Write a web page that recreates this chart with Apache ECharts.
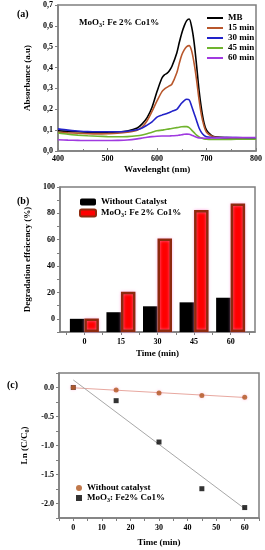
<!DOCTYPE html>
<html><head><meta charset="utf-8">
<script src="https://cdn.jsdelivr.net/npm/echarts@6/dist/echarts.min.js"></script>
<style>html,body{margin:0;padding:0;background:#fff}#c{width:265px;height:550px}</style>
</head><body><div id="c"></div>
<script>
// ---- Panel (a) data ----
var wavelength = [400,420,440,460,480,500,520,540,560,570,580,590,600,610,615,620,625,630,640,645,650,655,660,665,670,675,680,685,690,695,700,710,720,740,760,780,800];
var absMB   = [.097,.094,.092,.090,.089,.089,.091,.096,.110,.130,.160,.210,.285,.350,.365,.372,.385,.405,.470,.520,.565,.600,.625,.633,.595,.520,.410,.290,.200,.135,.100,.075,.067,.064,.063,.062,.061];
var abs15   = [.090,.087,.085,.083,.082,.083,.085,.090,.100,.115,.145,.190,.240,.285,.297,.305,.312,.320,.375,.420,.460,.485,.500,.505,.480,.420,.340,.245,.170,.120,.090,.072,.066,.063,.062,.061,.060];
var abs30   = [.106,.100,.096,.093,.092,.092,.092,.095,.102,.110,.124,.140,.162,.172,.176,.180,.185,.190,.200,.215,.230,.242,.248,.245,.215,.180,.145,.110,.088,.075,.068,.065,.064,.064,.064,.063,.062];
var abs45   = [.086,.080,.076,.073,.071,.069,.068,.069,.073,.077,.083,.090,.097,.100,.102,.104,.106,.108,.112,.114,.116,.117,.117,.112,.100,.088,.076,.068,.062,.058,.056,.055,.055,.055,.056,.056,.056];
var abs60   = [.054,.052,.051,.050,.050,.050,.051,.053,.058,.062,.066,.069,.071,.072,.072,.072,.072,.073,.074,.076,.078,.080,.081,.080,.076,.071,.066,.063,.062,.061,.061,.062,.063,.064,.065,.065,.065];
var curveNames = ['MB','15 min','30 min','45 min','60 min'];

// ---- Panel (b) data ----
var timeCats = [0, 15, 30, 45, 60];
var degWithout = [0, 5, 9.5, 12.5, 16];
var degMoO3    = [0.3, 20.5, 61, 82.5, 87.5];
var bYTicks = [0, 20, 40, 60, 80, 100];

// ---- Panel (c) data ----
var timeC = [0, 15, 30, 45, 60];
var lnWithout = [0, -0.045, -0.096, -0.136, -0.17];
var lnMoO3    = [0, -0.227, -0.94, -1.745, -2.07];
var fitWithoutEnds = [[0, -0.005], [60, -0.172]];
var fitMoO3Ends    = [[0, 0.13], [60, -2.09]];
var cXTicks = [0, 10, 20, 30, 40, 50, 60];
var cYTicks = [-2.0, -1.5, -1.0, -0.5, 0.0];

var FF = '"Liberation Serif","Times New Roman",serif';
var gray = '#7f7f7f';
function pairs(xs, ys){ return xs.map(function(x,i){return [x, ys[i]];}); }
function range(a,b,s){ var r=[]; for(var v=a; v<=b+1e-9; v+=s) r.push(Math.round(v*1000)/1000); return r; }

var lbl = {color:'#000', fontFamily:FF, fontWeight:'bold', fontSize:8};
var nameStyle = {color:'#000', fontFamily:FF, fontWeight:'bold', fontSize:9};
var axLine = {show:true, onZero:false, lineStyle:{color:gray, width:1.5}};
var sub = {fontSize:6, fontFamily:FF, fontWeight:'bold', color:'#000', padding:[5,0,0,0]};

var chart = echarts.init(document.getElementById('c'), null, {renderer:'canvas'});
var curveColors = ['#000000','#b8572c','#2222c8','#70b42e','#a03ae0'];
var curveData = [absMB, abs15, abs30, abs45, abs60];

var series = curveData.map(function(d,i){
  return {name:curveNames[i], type:'line', xAxisIndex:0, yAxisIndex:0, data:pairs(wavelength,d),
    showSymbol:false, symbol:'none', smooth:0.3, lineStyle:{width:1.6, color:curveColors[i]}, itemStyle:{color:curveColors[i]}};
});
series.push({name:'Without Catalyst', type:'bar', xAxisIndex:1, yAxisIndex:1, data:pairs(timeCats,degWithout),
  barWidth:14.5, barGap:'0%', itemStyle:{color:'#000'}});
series.push({name:'MoO3: Fe 2% Co1%', type:'bar', xAxisIndex:1, yAxisIndex:1, data:pairs(timeCats,degMoO3),
  barWidth:14.5, barGap:'0%',
  itemStyle:{color:'#ff0000', borderColor:'#8e2a0e', borderWidth:2.5, shadowColor:'rgba(255,150,220,0.7)', shadowBlur:3}});
series.push({name:'fitW', type:'line', xAxisIndex:2, yAxisIndex:2, data:fitWithoutEnds, symbol:'none',
  lineStyle:{color:'#e8a8a0', width:1}, silent:true, z:1});
series.push({name:'fitM', type:'line', xAxisIndex:2, yAxisIndex:2, data:fitMoO3Ends, symbol:'none',
  lineStyle:{color:'#a8a8a8', width:1}, silent:true, z:1});
series.push({name:'Without catalyst', type:'scatter', xAxisIndex:2, yAxisIndex:2, data:pairs(timeC,lnWithout),
  symbol:'circle', symbolSize:5, itemStyle:{color:'#b0561e', shadowColor:'rgba(255,160,200,0.8)', shadowBlur:3}, z:4});
series.push({name:'MoO3: Fe2% Co1%', type:'scatter', xAxisIndex:2, yAxisIndex:2, data:pairs(timeC,lnMoO3),
  symbol:'rect', symbolSize:5, itemStyle:{color:'#000'}, z:3});

function legFmt(n){ return n.replace('MoO3','MoO{s|3}'); }
var legText = {color:'#000', fontFamily:FF, fontWeight:'bold', fontSize:9, lineHeight:10, rich:{s:sub}};

var option = {
  animation:false,
  backgroundColor:'#fff',
  grid:[
    {left:58, top:5, width:199, height:146, show:true, borderColor:gray, borderWidth:1.5, containLabel:false},
    {left:60, top:187, width:195, height:145, show:true, borderColor:gray, borderWidth:1.5, containLabel:false},
    {left:59, top:373, width:200, height:145, show:true, borderColor:gray, borderWidth:1.5, containLabel:false}
  ],
  xAxis:[
    {gridIndex:0, type:'value', min:400, max:800, interval:100, axisLine:axLine,
     axisTick:{show:true, inside:true, length:3, lineStyle:{color:gray}},
     minorTick:{show:true, splitNumber:2, length:2, lineStyle:{color:gray}},
     axisLabel:Object.assign({margin:4}, lbl), splitLine:{show:false},
     name:'Wavelenght (nm)', nameLocation:'middle', nameGap:14, nameTextStyle:nameStyle},
    {gridIndex:1, type:'value', min:-10, max:70, axisLine:axLine,
     axisTick:{show:true, length:3, lineStyle:{color:gray}, customValues:range(-7.5,67.5,7.5)},
     axisLabel:Object.assign({margin:6, customValues:timeCats}, lbl), splitLine:{show:false},
     name:'Time (min)', nameLocation:'middle', nameGap:17, nameTextStyle:nameStyle},
    {gridIndex:2, type:'value', min:-5, max:65, axisLine:axLine,
     axisTick:{show:true, length:3, lineStyle:{color:gray}, customValues:range(-5,65,5)},
     axisLabel:Object.assign({margin:6, customValues:cXTicks}, lbl), splitLine:{show:false},
     name:'Time (min)', nameLocation:'middle', nameGap:20, nameTextStyle:nameStyle}
  ],
  yAxis:[
    {gridIndex:0, type:'value', min:0, max:0.7, interval:0.1, axisLine:axLine,
     axisTick:{show:true, length:3, lineStyle:{color:gray}},
     axisLabel:Object.assign({margin:5, formatter:function(v){return v.toFixed(1).replace('.',',');}}, lbl),
     splitLine:{show:false},
     name:'Absorbance (a.u)', nameLocation:'middle', nameGap:21, nameTextStyle:nameStyle},
    {gridIndex:1, type:'value', min:-10, max:100, startValue:-10, axisLine:axLine,
     axisTick:{show:true, length:3, lineStyle:{color:gray}, customValues:range(-10,100,10)},
     axisLabel:Object.assign({margin:5, customValues:bYTicks}, lbl), splitLine:{show:false},
     name:'Degradation effeicency (%)', nameLocation:'middle', nameGap:19, nameTextStyle:nameStyle},
    {gridIndex:2, type:'value', min:-2.25, max:0.25, axisLine:axLine,
     axisTick:{show:true, length:3, lineStyle:{color:gray}, customValues:range(-2.25,0.25,0.25)},
     axisLabel:Object.assign({margin:5, customValues:cYTicks, formatter:function(v){return (+v).toFixed(1);}}, lbl),
     splitLine:{show:false},
     name:'Ln (C/C{s|0})', nameLocation:'middle', nameGap:21,
     nameTextStyle:Object.assign({rich:{s:sub}}, nameStyle)}
  ],
  legend:[
    {data:curveNames, left:207, top:13, orient:'vertical', icon:'rect', itemWidth:16, itemHeight:2, itemGap:0,
     padding:0, textStyle:legText, selectedMode:false},
    {data:['Without Catalyst','MoO3: Fe 2% Co1%'], left:79, top:197, orient:'vertical', itemWidth:16, itemHeight:7, itemGap:1,
     padding:0, textStyle:legText, formatter:legFmt, selectedMode:false},
    {data:['Without catalyst','MoO3: Fe2% Co1%'], left:76, top:483, orient:'vertical', itemWidth:6, itemHeight:6, itemGap:0,
     padding:0, textStyle:legText, formatter:legFmt, selectedMode:false}
  ],
  graphic:[
    {type:'text', left:17, top:9, style:{text:'(a)', font:'bold 10px '+FF, fill:'#000'}},
    {type:'text', left:17, top:196, style:{text:'(b)', font:'bold 10px '+FF, fill:'#000'}},
    {type:'text', left:7, top:380, style:{text:'(c)', font:'bold 10px '+FF, fill:'#000'}},
    {type:'text', left:79, top:18, style:{text:'MoO{s|3}: Fe 2% Co1%', font:'bold 9px '+FF, fill:'#000', rich:{s:sub}}}
  ],
  series:series
};
chart.setOption(option);
</script></body></html>
